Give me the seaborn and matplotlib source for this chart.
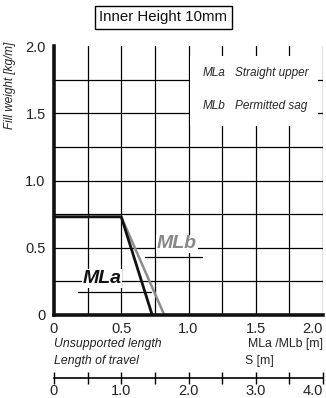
import matplotlib
matplotlib.use('Agg')
import matplotlib.pyplot as plt
import seaborn as sns
import pandas as pd
from matplotlib.patches import Rectangle

# ---- data ----
mla_x = [0.0, 0.5, 0.73]
mla_y = [0.73, 0.73, 0.0]
mlb_x = [0.0, 0.5, 0.82]
mlb_y = [0.73, 0.73, 0.0]
x_ticks = [0.0, 0.5, 1.0, 1.5, 2.0]
x_labels = ['0', '0.5', '1.0', '1.5', '2.0']
y_ticks = [0.0, 0.5, 1.0, 1.5, 2.0]
y_labels = ['0', '0.5', '1.0', '1.5', '2.0']
grid_steps = [0.25, 0.5, 0.75, 1.0, 1.25, 1.5, 1.75, 2.0]
s_ticks = [0, 1, 2, 3, 4]
s_labels = ['0', '1.0', '2.0', '3.0', '4.0']

sns.set_theme(style='white')
plt.rcParams['font.family'] = ['Liberation Sans', 'DejaVu Sans']

W, H = 326, 398
fig = plt.figure(figsize=(W / 100, H / 100), dpi=100)
ax = fig.add_axes([54 / W, (H - 315) / H, 269 / W, 269 / H])

def fx(px):
    return px / W

def fy(py):
    return 1 - py / H

# grid
for v in grid_steps:
    ax.axvline(v, color='black', lw=0.9, zorder=1)
for v in grid_steps[:-1]:
    ax.axhline(v, color='black', lw=0.9, zorder=1)

# white legend box
ax.add_patch(Rectangle((1.011, 1.405), 0.952, 0.521, facecolor='white',
                       edgecolor='none', zorder=2))

df_a = pd.DataFrame({'x': mla_x, 'y': mla_y})
df_b = pd.DataFrame({'x': mlb_x, 'y': mlb_y})
sns.lineplot(data=df_a, x='x', y='y', sort=False, estimator=None,
             color='#111111', lw=2.0, ax=ax, zorder=4)
sns.lineplot(data=df_b, x='x', y='y', sort=False, estimator=None,
             color='#8c8c8c', lw=1.8, ax=ax, zorder=3)

ax.set_xlim(0, 2.0)
ax.set_ylim(0, 2.0)
ax.set_xlabel('')
ax.set_ylabel('')
ax.set_xticks(x_ticks)
ax.set_xticklabels(x_labels)
ax.set_yticks(y_ticks)
ax.set_yticklabels(y_labels)
ax.set_xticks(grid_steps, minor=True)
ax.set_yticks(grid_steps, minor=True)
ax.tick_params(which='both', direction='out', length=5, width=1,
               color='black', labelsize=10.5, labelcolor='#222222', pad=2)
ax.tick_params(axis='y', which='both', pad=1)
ax.tick_params(axis='x', which='both', length=4, pad=1)
ax.get_xticklabels()[-1].set_horizontalalignment('right')
for s in ['top', 'right']:
    ax.spines[s].set_visible(False)
for s in ['left', 'bottom']:
    ax.spines[s].set_linewidth(2.6)
    ax.spines[s].set_color('#111111')
    ax.spines[s].set_zorder(5)

# secondary axis for length of travel
sec = ax.secondary_xaxis(-63 / 269, functions=(lambda x: x * 2, lambda x: x / 2))
sec.set_xticks(s_ticks)
sec.set_xticklabels(s_labels)
sec.set_xticks([0.5, 1.5, 2.5, 3.5], minor=True)
sec.tick_params(which='both', direction='inout', length=8, width=1,
                color='black', labelsize=10.5, labelcolor='#222222', pad=0)
sec.get_xticklabels()[-1].set_horizontalalignment('right')
sec.spines['bottom'].set_linewidth(1.2)
sec.spines['bottom'].set_color('black')

# line labels
ax.text(0.357, 0.268, 'MLa', fontsize=14, style='italic', fontweight='bold',
        color='#111111', ha='center', va='center', zorder=6,
        bbox=dict(boxstyle='square,pad=0.05', facecolor='white', edgecolor='none'))
ax.plot([0.18, 0.72], [0.171, 0.171], color='black', lw=0.9, zorder=3)
ax.text(0.915, 0.528, 'MLb', fontsize=14, style='italic', fontweight='bold',
        color='#888888', ha='center', va='center', zorder=6,
        bbox=dict(boxstyle='square,pad=0.05', facecolor='white', edgecolor='none'))
ax.plot([0.68, 1.10], [0.431, 0.431], color='black', lw=0.9, zorder=3)

# legend text
ax.text(fx(203), fy(73), 'MLa', transform=fig.transFigure, fontsize=8.5,
        style='italic', va='center', ha='left', zorder=6)
ax.text(fx(235), fy(73), 'Straight upper', transform=fig.transFigure, fontsize=8.5,
        style='italic', va='center', ha='left', zorder=6)
ax.text(fx(203), fy(106), 'MLb', transform=fig.transFigure, fontsize=8.5,
        style='italic', va='center', ha='left', zorder=6)
ax.text(fx(235), fy(106), 'Permitted sag', transform=fig.transFigure, fontsize=8.5,
        style='italic', va='center', ha='left', zorder=6)

# axis texts
fig.text(fx(10), fy(85), 'Fill weight [kg/m]', rotation=90, fontsize=8.5,
         style='italic', ha='center', va='center', color='#222222')
fig.text(fx(54), fy(344), 'Unsupported length', fontsize=8.8, style='italic',
         ha='left', va='center', color='#222222')
fig.text(fx(54), fy(361), 'Length of travel', fontsize=8.8, style='italic',
         ha='left', va='center', color='#222222')
fig.text(fx(323), fy(344), 'MLa /MLb [m]', fontsize=8.8,
         ha='right', va='center', color='#222222')
fig.text(fx(245), fy(361), 'S [m]', fontsize=8.8,
         ha='left', va='center', color='#222222')

# title
fig.text(fx(163), fy(17), 'Inner Height 10mm', fontsize=10.8, ha='center', va='center',
         color='#111111',
         bbox=dict(boxstyle='square,pad=0.3', facecolor='white', edgecolor='black', lw=1))

fig.savefig('out.png', dpi=100)
